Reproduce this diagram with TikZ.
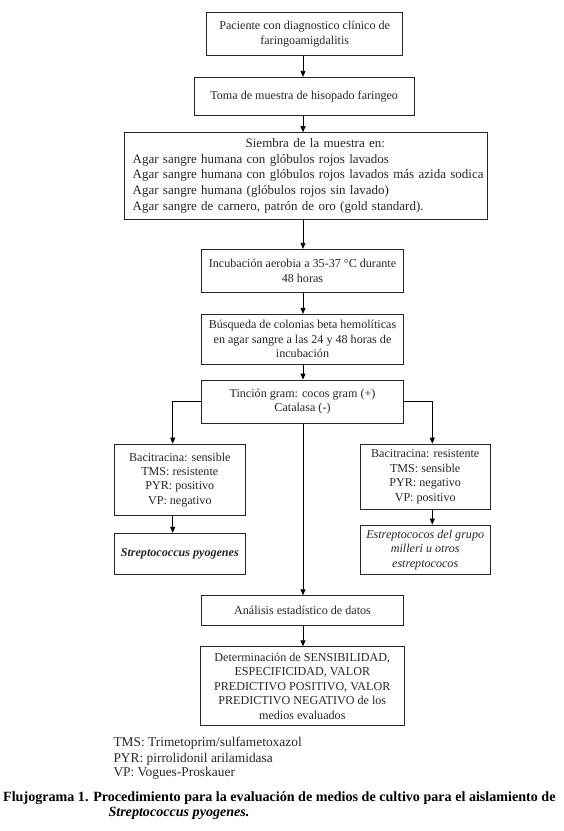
\documentclass[tikz,border=0pt]{standalone}
\usepackage{fontspec}
\setmainfont{Liberation Serif}
\usetikzlibrary{arrows.meta,calc}
\begin{document}
\begin{tikzpicture}[x=1pt,y=-1pt,
  box/.style={draw=black!85,line width=0.9pt,align=center,inner sep=2pt,font=\fontsize{12.1}{14.4}\selectfont,text=black!85},
  arr/.style={draw=black,line width=0.8pt,-{Triangle[length=6pt,width=5pt]}},
  legend/.style={anchor=base west,inner sep=0pt,font=\fontsize{13.4}{15}\selectfont,text=black!85}
]
\useasboundingbox (0,0) rectangle (564,831);
% boxes
\node[box,minimum width=196pt,minimum height=42.6pt] (b1) at (304.7,34) {Paciente con diagnostico clínico de\\faringoamigdalitis};
\node[box,minimum width=220.3pt,minimum height=37.7pt] (b2) at (304.2,96.2) {Toma de muestra de hisopado faringeo};
\node[box,minimum width=363.7pt,minimum height=86.3pt,align=left,inner xsep=8.7pt,text width=346.3pt,font=\fontsize{13}{15.6}\selectfont] (b3) at (305.8,175.8) {\hspace*{113pt}Siembra de la muestra en:\\Agar sangre humana con glóbulos rojos lavados\\\mbox{Agar sangre humana con glóbulos rojos lavados más azida sodica}\\Agar sangre humana (glóbulos rojos sin lavado)\\Agar sangre de carnero, patrón de oro (gold standard).};
\node[box,minimum width=201.6pt,minimum height=43.4pt] (b4) at (302.5,271) {Incubación aerobia a 35-37 °C durante\\48 horas};
\node[box,minimum width=201.6pt,minimum height=49.7pt] (b5) at (302.5,339.2) {Búsqueda de colonias beta hemolíticas\\en agar sangre a las 24 y 48 horas de\\incubación};
\node[box,minimum width=201.6pt,minimum height=43.3pt] (b6) at (302.5,401.7) {Tinción gram: cocos gram (+)\\Catalasa (-)};
\node[box,minimum width=130.3pt,minimum height=71.3pt] (b7) at (179.8,479.7) {Bacitracina: sensible\\TMS: resistente\\PYR: positivo\\VP: negativo};
\node[box,minimum width=130.3pt,minimum height=41pt,font=\fontsize{12.1}{14.4}\selectfont\bfseries\itshape] (b8) at (179.8,553.8) {Streptococcus pyogenes};
\node[box,minimum width=129.7pt,minimum height=65.3pt] (b9) at (425.2,476.7) {Bacitracina: resistente\\TMS: sensible\\PYR: negativo\\VP: positivo};
\node[box,minimum width=129.7pt,minimum height=49.3pt,font=\fontsize{12.1}{14.4}\selectfont\itshape] (b10) at (425.2,549.7) {Estreptococos del grupo\\milleri u otros\\estreptococos};
\node[box,minimum width=201.6pt,minimum height=30pt] (b11) at (302.5,610.7) {Análisis estadístico de datos};
\node[box,minimum width=203.3pt,minimum height=79pt] (b12) at (302.3,686.2) {Determinación de SENSIBILIDAD,\\ESPECIFICIDAD, VALOR\\PREDICTIVO POSITIVO, VALOR\\PREDICTIVO NEGATIVO de los\\medios evaluados};
% axes
\coordinate (ax) at (303,0);
\coordinate (lx) at (172.7,0);
\coordinate (rx) at (432.3,0);
% connectors
\draw[arr] (b1.south -| ax) -- (b2.north -| ax);
\draw[arr] (b2.south -| ax) -- (b3.north -| ax);
\draw[arr] (b3.south -| ax) -- (b4.north -| ax);
\draw[arr] (b4.south -| ax) -- (b5.north -| ax);
\draw[arr] (b5.south -| ax) -- (b6.north -| ax);
\draw[arr] (b6.west) -| (b7.north -| lx);
\draw[arr] (b6.east) -| (b9.north -| rx);
\draw[arr] (b7.south -| lx) -- (b8.north -| lx);
\draw[arr] (b9.south -| rx) -- (b10.north -| rx);
\draw[arr] (b6.south -| ax) -- (b11.north -| ax);
\draw[arr] (b11.south -| ax) -- (b12.north -| ax);
% legend
\node[legend] (l1) at (113.3,746.7) {TMS: Trimetoprim/sulfametoxazol};
\node[legend] (l2) at (113.3,762) {PYR: pirrolidonil arilamidasa};
\node[legend] (l3) at (113.3,776.7) {VP: Vogues-Proskauer};
\node[legend,font=\fontsize{14.1}{15}\selectfont\bfseries,text=black] (c1) at (3,801) {Flujograma 1. Procedimiento para la evaluación de medios de cultivo para el aislamiento de};
\node[legend,font=\fontsize{14.1}{15}\selectfont\bfseries\itshape,text=black] (c2) at (108.3,816) {Streptococcus pyogenes.};
\end{tikzpicture}
\end{document}
